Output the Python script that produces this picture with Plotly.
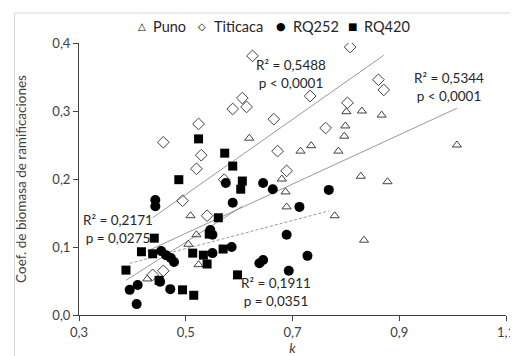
import plotly.graph_objects as go

# ---- data ----
puno_k = [0.801, 0.830, 0.867, 0.799, 0.797, 0.715, 0.735, 0.786, 1.008, 0.619,
          0.828, 0.878, 0.680, 0.687, 0.689, 0.779, 0.834, 0.509, 0.505, 0.520,
          0.524, 0.428]
puno_c = [0.299, 0.300, 0.294, 0.278, 0.263, 0.241, 0.249, 0.241, 0.250, 0.260,
          0.204, 0.196, 0.200, 0.181, 0.159, 0.146, 0.110, 0.146, 0.104, 0.118,
          0.074, 0.053]

titi_k = [0.625, 0.808, 0.861, 0.871, 0.733, 0.803, 0.606, 0.588, 0.614, 0.665,
          0.762, 0.524, 0.458, 0.529, 0.672, 0.520, 0.689, 0.572, 0.494, 0.540,
          0.458, 0.438]
titi_c = [0.381, 0.394, 0.346, 0.331, 0.322, 0.312, 0.319, 0.303, 0.306, 0.288,
          0.275, 0.281, 0.254, 0.235, 0.241, 0.215, 0.212, 0.199, 0.168, 0.146,
          0.065, 0.059]

rq252_k = [0.443, 0.443, 0.575, 0.588, 0.645, 0.663, 0.713, 0.768, 0.689, 0.728,
           0.693, 0.645, 0.638, 0.586, 0.550, 0.546, 0.550, 0.454, 0.463, 0.472,
           0.478, 0.452, 0.410, 0.395, 0.408, 0.471]
rq252_c = [0.169, 0.160, 0.194, 0.165, 0.194, 0.185, 0.159, 0.184, 0.118, 0.087,
           0.065, 0.081, 0.076, 0.100, 0.091, 0.125, 0.118, 0.094, 0.088, 0.084,
           0.078, 0.049, 0.044, 0.037, 0.016, 0.038]

rq420_k = [0.524, 0.573, 0.588, 0.487, 0.606, 0.603, 0.561, 0.441, 0.544, 0.417,
           0.438, 0.388, 0.450, 0.494, 0.515, 0.513, 0.533, 0.540, 0.570, 0.597]
rq420_c = [0.259, 0.238, 0.219, 0.199, 0.197, 0.185, 0.143, 0.113, 0.119, 0.093,
           0.090, 0.066, 0.051, 0.037, 0.029, 0.091, 0.088, 0.075, 0.097, 0.059]

# linear trend lines as drawn in the picture (end points read from it)
puno_trend_k = [0.428, 1.008]
puno_trend_c = [0.094, 0.304]
titi_trend_k = [0.438, 0.871]
titi_trend_c = [0.143, 0.382]
rq252_trend_k = [0.395, 0.768]
rq252_trend_c = [0.076, 0.153]
rq420_trend_k = [0.388, 0.606]
rq420_trend_c = [0.051, 0.160]

series_names = ["Puno", "Titicaca", "RQ252", "RQ420"]
legend_symbols = ["△", "◇", "●", "■"]
x_ticks = [0.3, 0.5, 0.7, 0.9, 1.1]
y_ticks = [0.0, 0.1, 0.2, 0.3, 0.4]
stats_text = ["R² = 0,5344<br>p < 0,0001", "R² = 0,5488<br>p < 0,0001",
              "R² = 0,1911<br>p = 0,0351", "R² = 0,2171<br>p = 0,0275"]

FONT = "Lato, 'Open Sans', sans-serif"
SYMFONT = "'DejaVu Sans', sans-serif"
fig = go.Figure()

markers = [
    dict(symbol="triangle-up-open", size=8, color="#404040", line=dict(width=1, color="#404040")),
    dict(symbol="diamond-open", size=9, color="#404040", line=dict(width=1, color="#404040")),
    dict(symbol="circle", size=10, color="#000000"),
    dict(symbol="square", size=9, color="#000000"),
]
data = [(puno_k, puno_c), (titi_k, titi_c), (rq252_k, rq252_c), (rq420_k, rq420_c)]
trends = [(puno_trend_k, puno_trend_c), (titi_trend_k, titi_trend_c),
          (rq252_trend_k, rq252_trend_c), (rq420_trend_k, rq420_trend_c)]
dashes = ["solid", "solid", "3px,2px", "solid"]

for (tx, ty), dsh in zip(trends, dashes):
    fig.add_trace(go.Scatter(x=tx, y=ty, mode="lines", showlegend=False,
                             hoverinfo="skip",
                             line=dict(color="#7f7f7f", width=0.8, dash=dsh)))

for name, (xs, ys), mk in zip(series_names, data, markers):
    fig.add_trace(go.Scatter(x=xs, y=ys, mode="markers", name=name, marker=mk,
                             showlegend=False))

ann_pos = [(0.994, 0.335), (0.698, 0.355), (0.669, 0.034), (0.373, 0.126)]
for txt, (ax, ay) in zip(stats_text, ann_pos):
    fig.add_annotation(x=ax, y=ay, xref="x", yref="y", text=txt, showarrow=False,
                       font=dict(family=FONT, size=13.5, color="#262626"),
                       align="center")

# legend drawn as text (symbol + name) at the top
PW = 436.0
leg_sym_px = [135, 197, 277, 350]
leg_txt_px = [145, 207, 287, 360]
leg_sym_size = [10, 10, 11, 10]
for sym, nm, sx, tx, ss in zip(legend_symbols, series_names, leg_sym_px, leg_txt_px, leg_sym_size):
    fig.add_annotation(x=(sx - 71) / PW, y=1.0625, xref="paper", yref="paper",
                       text=sym, showarrow=False, xanchor="center", yanchor="middle",
                       font=dict(family=SYMFONT, size=ss, color="#000000"))
    fig.add_annotation(x=(tx - 71) / PW, y=1.0625, xref="paper", yref="paper",
                       text=nm, showarrow=False, xanchor="left", yanchor="middle",
                       font=dict(family=FONT, size=14.5, color="#262626"))

# light outer chart border
fig.add_shape(type="rect", xref="paper", yref="paper", x0=-0.151, x1=1.03,
              y0=-0.195, y1=1.110, line=dict(color="#d9d9d9", width=1), layer="below")

fig.update_layout(
    width=518, height=356,
    margin=dict(l=71, r=11, t=35, b=49),
    paper_bgcolor="white", plot_bgcolor="white",
    separators=", ",
    font=dict(family=FONT, size=13, color="#404040"),
    showlegend=False,
    xaxis=dict(range=[0.3, 1.1], tickvals=x_ticks, tickformat=".1f",
               showgrid=False, zeroline=False, showline=True, linecolor="#404040",
               linewidth=1, ticks="outside", ticklen=5, tickcolor="#404040",
               tickfont=dict(family=FONT, size=13, color="#404040"),
               title=dict(text="<i>k</i>", font=dict(family=FONT, size=13.5, color="#404040"),
                          standoff=4)),
    yaxis=dict(range=[0, 0.4], tickvals=y_ticks, tickformat=".1f",
               showgrid=False, zeroline=False, showline=True, linecolor="#404040",
               linewidth=1, ticks="outside", ticklen=5, tickcolor="#404040",
               tickfont=dict(family=FONT, size=13, color="#404040"),
               title=dict(text="Coef. de biomasa de ramificaciones",
                          font=dict(family=FONT, size=13.5, color="#404040"), standoff=22)),
)

fig.write_html("out.html")
